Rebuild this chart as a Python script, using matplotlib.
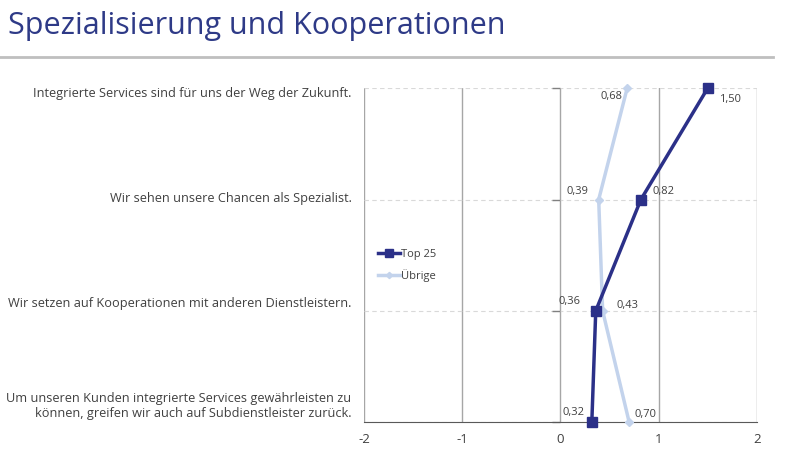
import numpy as np
import matplotlib.pyplot as plt

plt.rcParams['font.family'] = ['Open Sans', 'DejaVu Sans']

# Daten
aussagen = [
    "Integrierte Services sind für uns der Weg der Zukunft.",
    "Wir sehen unsere Chancen als Spezialist.",
    "Wir setzen auf Kooperationen mit anderen Dienstleistern.",
    "Um unseren Kunden integrierte Services gewährleisten zu\nkönnen, greifen wir auch auf Subdienstleister zurück.",
]
top25 = [1.50, 0.82, 0.36, 0.32]
uebrige = [0.68, 0.39, 0.43, 0.70]
x_ticks = [-2, -1, 0, 1, 2]

navy = "#2B3088"
hellblau = "#C3D3EC"
y = np.arange(len(aussagen))

fig = plt.figure(figsize=(8, 4.5), dpi=100)
fig.text(0.01, 1 - 34 / 450, "Spezialisierung und Kooperationen", fontsize=22,
         color="#2E3A87", ha="left", va="baseline")
fig.add_artist(plt.Line2D([0.0, 0.966], [0.873, 0.873], color="#BFBFBF", lw=2))

ax = fig.add_axes([0.455, 0.062, 0.491, 0.742])

# Gitter
for xv in x_ticks:
    ax.axvline(xv, color="#A6A6A6", lw=1, zorder=0)
for yv in y:
    ax.axhline(yv, color="#D9D9D9", lw=0.8, ls=(0, (4, 3)), zorder=0)
ax.plot(np.zeros(len(y)), y, ls="none", marker=0, markersize=6, color="#808080", clip_on=False)

# Linien
ax.plot(uebrige, y, color=hellblau, lw=2.5, marker="D", markersize=4, label="Übrige", clip_on=False, zorder=3)
ax.plot(top25, y, color=navy, lw=2.5, marker="s", markersize=7, label="Top 25", clip_on=False, zorder=4)

# Datenbeschriftungen
off_top = [(8, -10), (8, 4), (-27, 5), (-21, 5)]
off_ueb = [(-19, -8), (-23, 4), (10, 2), (4, 4)]
for i in range(len(y)):
    ax.annotate(f"{top25[i]:.2f}".replace(".", ","), (top25[i], y[i]), xytext=off_top[i],
                textcoords="offset points", fontsize=8, color="#404040")
    ax.annotate(f"{uebrige[i]:.2f}".replace(".", ","), (uebrige[i], y[i]), xytext=off_ueb[i],
                textcoords="offset points", fontsize=8, color="#404040")

# Kategorienbeschriftungen (leicht versetzt wie im Original)
label_off = [-3.6, 0.7, 5, 11.5]
for i, txt in enumerate(aussagen):
    ax.annotate(txt, (0, y[i]), xycoords=("axes fraction", "data"),
                xytext=(-9, label_off[i]), textcoords="offset points",
                ha="right", va="center", fontsize=9.2, color="#404040", multialignment="right")

ax.set_xlim(-2, 2)
ax.set_ylim(len(y) - 1, 0)
ax.set_xticks(x_ticks)
ax.set_xticklabels([str(v) for v in x_ticks], fontsize=9.5, color="#404040")
ax.set_yticks([])
ax.tick_params(axis="x", length=0, pad=8)
for s in ["top", "right", "left"]:
    ax.spines[s].set_visible(False)
ax.spines["bottom"].set_color("#595959")

leg = ax.legend(handles=ax.get_lines()[-1:] + ax.get_lines()[-2:-1], loc="center left",
                bbox_to_anchor=(0.01, 0.47), frameon=False, fontsize=8, handlelength=2.0,
                handletextpad=0.1, labelspacing=0.8, markerscale=0.8)
for t in leg.get_texts():
    t.set_color("#404040")

fig.savefig("out.png", dpi=100)
